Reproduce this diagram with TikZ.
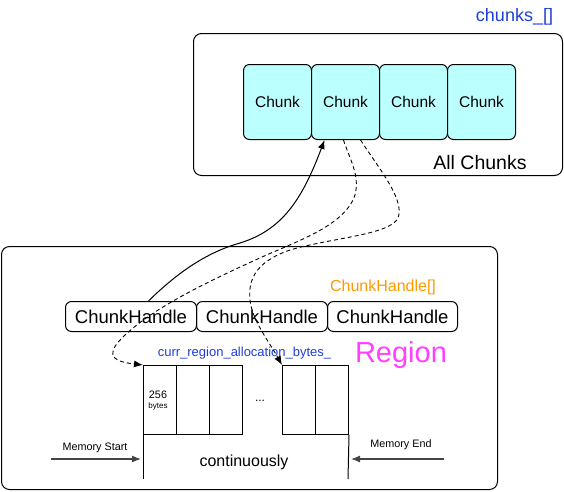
\documentclass[tikz,border=0pt]{standalone}
\usepackage{fontspec}
\setmainfont{Liberation Sans}
\usetikzlibrary{arrows.meta,calc}
\definecolor{chunkfill}{HTML}{BBFFFF}
\definecolor{myblue}{HTML}{1C3FD8}
\definecolor{myorange}{HTML}{FF9900}
\definecolor{mymagenta}{HTML}{FF40FF}
\definecolor{arrowgray}{HTML}{444444}
\tikzset{
  panel/.style={draw, line width=1pt, rounded corners=8pt},
  chunkbox/.style={draw, line width=1pt, rounded corners=6pt, fill=chunkfill, minimum width=68pt, minimum height=75pt, inner sep=0pt, anchor=north west, font=\fontsize{15.5}{18}\selectfont},
  handlebox/.style={draw, line width=1pt, rounded corners=6pt, minimum width=131pt, minimum height=30pt, inner sep=0pt, anchor=north west, font=\fontsize{18.5}{22}\selectfont},
  cell/.style={draw, line width=1pt, minimum width=33pt, minimum height=69pt, inner sep=0pt, anchor=north west},
  lbl/.style={inner sep=0pt},
  tip/.style={-{Latex[length=9pt,width=7pt]}},
  dashline/.style={dash pattern=on 4pt off 3pt, line width=0.9pt},
}
\begin{document}
\begin{tikzpicture}[x=1pt,y=-1pt]
\useasboundingbox (0,0) rectangle (564,491);
% panels
\node[panel, minimum width=369pt, minimum height=142pt, anchor=north west, inner sep=0pt] (top) at (193,33) {};
\node[panel, minimum width=496pt, minimum height=243pt, anchor=north west, inner sep=0pt] (bot) at (1,246) {};
% chunks
\node[chunkbox] (c1) at (243,64) {Chunk};
\node[chunkbox] (c2) at (311,64) {Chunk};
\node[chunkbox] (c3) at (379,64) {Chunk};
\node[chunkbox] (c4) at (447,64) {Chunk};
\node[lbl, text=myblue, font=\fontsize{18}{20}\selectfont] (chl) at (514.5,17) {chunks\_[]};
\node[lbl, font=\fontsize{19.5}{22}\selectfont] (allc) at (480,163) {All Chunks};
% handles
\node[handlebox] (h1) at (65,301) {ChunkHandle};
\node[handlebox] (h2) at (196,301) {ChunkHandle};
\node[handlebox, minimum width=130pt] (h3) at (327,301) {ChunkHandle};
\node[lbl, text=myorange, font=\fontsize{16}{18}\selectfont] (hl) at (383,287) {ChunkHandle[]};
\node[lbl, text=mymagenta, font=\fontsize{29}{32}\selectfont] (reg) at (401,355) {Region};
\node[lbl, text=myblue, font=\fontsize{13}{15}\selectfont] (cur) at (244.5,353) {curr\_region\_allocation\_bytes\_};
% memory cells
\node[cell] (m1) at (143,365) {};
\node[cell] (m2) at (176,365) {};
\node[cell] (m3) at (209,365) {};
\node[cell] (m5) at (282,365) {};
\node[cell] (m6) at (315,365) {};
\node[lbl, font=\fontsize{10.8}{12}\selectfont] (n256) at (158,395) {256};
\node[lbl, font=\fontsize{8}{9}\selectfont] (nby) at (158,406.5) {bytes};
\node[lbl, font=\fontsize{12}{14}\selectfont] (dots) at (260,401) {...};
\coordinate (lb) at (143,479);
\coordinate (rb) at (348,479);
\draw[line width=1pt] (m1.south west) -- (lb);
\draw[line width=1pt] (m6.south east) -- (rb);
\node[lbl, font=\fontsize{16}{18}\selectfont] (cont) at (244,462) {continuously};
\node[lbl, font=\fontsize{10.8}{12}\selectfont] (ms) at (95,448) {Memory Start};
\node[lbl, font=\fontsize{10.8}{12}\selectfont] (me) at (401,445) {Memory End};
\coordinate (msa) at (51,459);
\coordinate (msb) at (141,459);
\coordinate (mea) at (444,459);
\coordinate (meb) at (351,459);
\draw[tip, arrowgray, line width=1.2pt] (msa) -- (msb);
\draw[tip, arrowgray, line width=1.2pt] (mea) -- (meb);
% connectors
\draw[tip, line width=1pt] ([xshift=17.5pt]h1.north) .. controls (185,265) and (215,250) .. (240,243) .. controls (282,230) and (302,200) .. ([xshift=-21pt]c2.south);
\draw[tip, dashline] ([xshift=-2pt]c2.south) .. controls (350,160) and (360,175) .. (355,195) .. controls (345,225) and (300,240) .. (262,257) .. controls (200,285) and (150,310) .. (122,338) .. controls (102,358) and (118,362) .. (m1.north west);
\draw[tip, dashline] ([xshift=15pt]c2.south) .. controls (380,170) and (405,200) .. (398,218) .. controls (390,235) and (330,238) .. (290,250) .. controls (255,262) and (248,280) .. (250,300) .. controls (252,320) and (268,340) .. (m5.north west);
\end{tikzpicture}
\end{document}
